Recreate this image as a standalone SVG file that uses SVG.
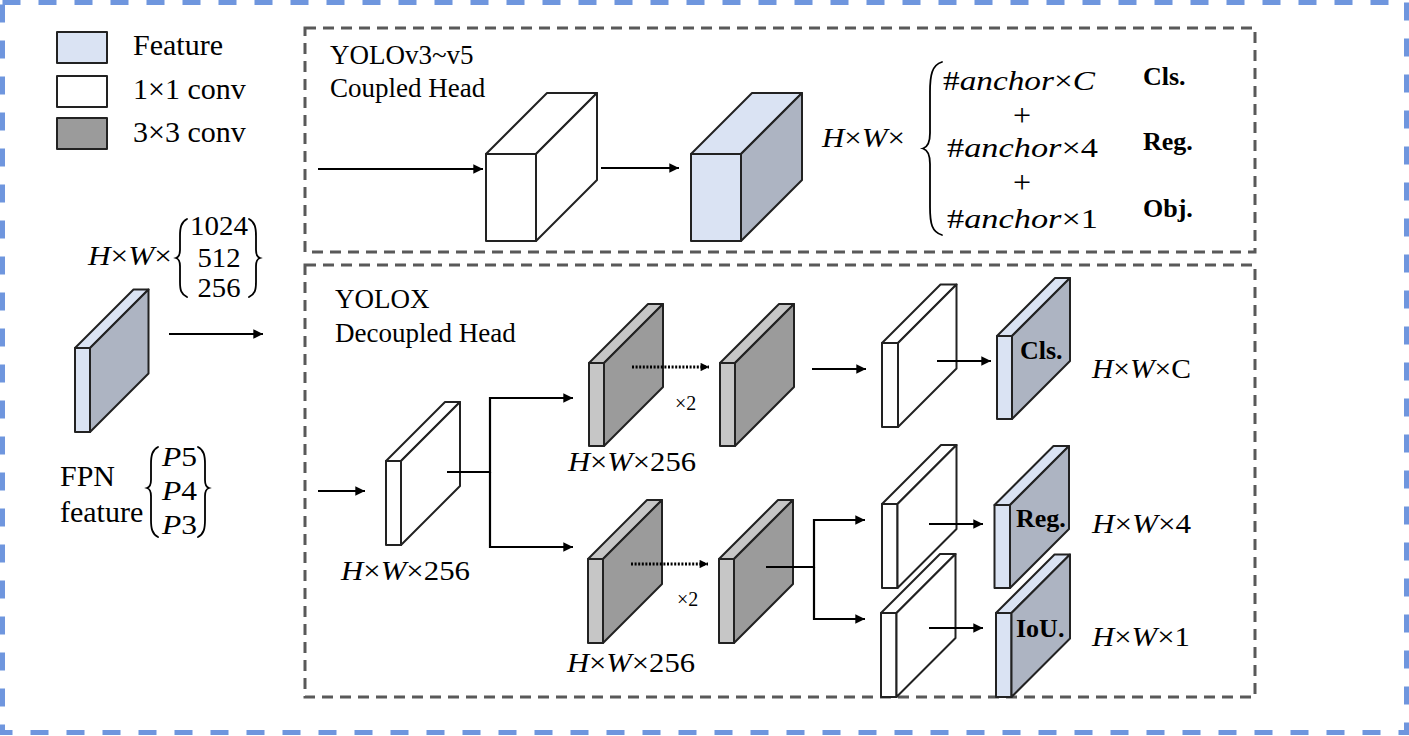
<svg xmlns="http://www.w3.org/2000/svg" width="1409" height="736" viewBox="0 0 1409 736" font-family="Liberation Serif, serif">
  <defs>
    <style>
      text { font-family: 'Liberation Serif', serif; fill: #000000; }
      .bold { font-weight: bold; }
      .i { font-style: italic; }
      .edge { stroke: #222; stroke-width: 2; stroke-linejoin: round; }
      .feat-f { fill: #dae3f3; }
      .feat-s { fill: #adb4c2; }
      .gray-f { fill: #c6c6c6; }
      .gray-s { fill: #9b9b9b; }
      .white { fill: #ffffff; }
      .frame { fill: none; stroke: #595959; stroke-width: 3; stroke-dasharray: 11 7; }
      .link { fill: none; stroke: #000; stroke-width: 2.2; }
      .dots { fill: none; stroke: #000; stroke-width: 3; stroke-dasharray: 2 1.6; }
      .brace { fill: none; stroke: #000; stroke-width: 1.8; stroke-linecap: round; }
    </style>
    <marker id="arrow" viewBox="0 0 10 10" refX="10" refY="5" markerWidth="4.6" markerHeight="4.4" markerUnits="strokeWidth" orient="auto">
      <path d="M0,0 L10,5 L0,10 z" fill="#000"/>
    </marker>
    <marker id="arrowDot" viewBox="0 0 10 10" refX="10" refY="5" markerWidth="3" markerHeight="2.8" markerUnits="strokeWidth" orient="auto">
      <path d="M0,0 L10,5 L0,10 z" fill="#000"/>
    </marker>
  </defs>

  <rect width="1409" height="736" fill="#ffffff"/>

  <!-- outer dashed frame -->
  <rect x="2.5" y="2.5" width="1404" height="730" fill="none" stroke="#6f96de" stroke-width="5" stroke-dasharray="18 18"/>

  <!-- head panels -->
  <g id="panels">
    <rect class="frame" x="305" y="28" width="950" height="224"/>
    <rect class="frame" x="305" y="265" width="950" height="432"/>
  </g>

  <!-- legend -->
  <g id="legend">
    <rect class="edge feat-f" x="57" y="32" width="50" height="31"/>
    <rect class="edge white" x="57" y="76" width="50" height="31"/>
    <rect class="edge gray-s" x="57" y="118" width="50" height="31"/>
    <text x="133" y="55" font-size="30">Feature</text>
    <text x="133" y="99" font-size="30">1×1 conv</text>
    <text x="133" y="142" font-size="30">3×3 conv</text>
  </g>

  <!-- FPN input feature -->
  <g id="fpn-feature">
    <rect class="edge feat-f" x="75" y="348" width="15" height="84"/>
    <polygon class="edge feat-f" points="75,348 133.5,289.5 148.5,289.5 90,348"/>
    <polygon class="edge feat-s" points="90,348 148.5,289.5 148.5,373.5 90,432"/>
    <text x="88" y="265" font-size="27" textLength="84" lengthAdjust="spacingAndGlyphs"><tspan class="i">H</tspan>×<tspan class="i">W</tspan>×</text>
    <path class="brace" d="M187,219 C181,222 180,228 180,236 L180,250 C180,255 179,257 176,258 C179,259 180,261 180,266 L180,282 C180,290 181,294 187,297"/>
    <path class="brace" d="M249,219 C255,222 256,228 256,236 L256,250 C256,255 257,257 260,258 C257,259 256,261 256,266 L256,282 C256,290 255,294 249,297"/>
    <text x="219" y="235" font-size="27" text-anchor="middle" textLength="58" lengthAdjust="spacingAndGlyphs">1024</text>
    <text x="219" y="267" font-size="27" text-anchor="middle" textLength="43" lengthAdjust="spacingAndGlyphs">512</text>
    <text x="219" y="297" font-size="27" text-anchor="middle" textLength="43" lengthAdjust="spacingAndGlyphs">256</text>
    <text x="60" y="486" font-size="30">FPN</text>
    <text x="60" y="522" font-size="30">feature</text>
    <path class="brace" d="M158,447 C152,450 151,456 151,464 L151,480 C151,485 150,487 147,488 C150,489 151,491 151,496 L151,520 C151,528 152,534 158,537"/>
    <path class="brace" d="M198,447 C204,450 205,456 205,464 L205,480 C205,485 206,487 209,488 C206,489 205,491 205,496 L205,520 C205,528 204,534 198,537"/>
    <text x="162" y="466" font-size="27" textLength="35" lengthAdjust="spacingAndGlyphs"><tspan class="i">P</tspan>5</text>
    <text x="162" y="500" font-size="27" textLength="35" lengthAdjust="spacingAndGlyphs"><tspan class="i">P</tspan>4</text>
    <text x="162" y="534" font-size="27" textLength="35" lengthAdjust="spacingAndGlyphs"><tspan class="i">P</tspan>3</text>
  </g>

  <!-- coupled head -->
  <g id="coupled-title">
    <text x="330" y="64" font-size="27">YOLOv3~v5</text>
    <text x="330" y="97" font-size="27">Coupled Head</text>
  </g>
  <g id="coupled-conv">
    <rect class="edge white" x="486" y="154" width="50" height="87"/>
    <polygon class="edge white" points="486,154 547,93 597,93 536,154"/>
    <polygon class="edge white" points="536,154 597,93 597,180 536,241"/>
  </g>
  <g id="coupled-output">
    <rect class="edge feat-f" x="691" y="154" width="50" height="87"/>
    <polygon class="edge feat-f" points="691,154 752,93 802,93 741,154"/>
    <polygon class="edge feat-s" points="741,154 802,93 802,180 741,241"/>
  </g>
  <g id="coupled-shape">
    <text x="822" y="147" font-size="27" textLength="83" lengthAdjust="spacingAndGlyphs"><tspan class="i">H</tspan>×<tspan class="i">W</tspan>×</text>
    <path class="brace" stroke-width="2.2" d="M942,62 C932,65 930,75 930,92 L930,133 C930,142 928,147 923,148.5 C928,150 930,155 930,164 L930,207 C930,224 932,232 942,235"/>
    <text x="943" y="90" font-size="28" textLength="152" lengthAdjust="spacingAndGlyphs">#<tspan class="i">anchor</tspan>×<tspan class="i">C</tspan></text>
    <text x="1022" y="126" font-size="32" text-anchor="middle">+</text>
    <text x="947" y="157" font-size="28" textLength="151" lengthAdjust="spacingAndGlyphs">#<tspan class="i">anchor</tspan>×4</text>
    <text x="1022" y="193" font-size="32" text-anchor="middle">+</text>
    <text x="947" y="228" font-size="28" textLength="151" lengthAdjust="spacingAndGlyphs">#<tspan class="i">anchor</tspan>×1</text>
    <text class="bold" x="1143" y="85" font-size="26">Cls.</text>
    <text class="bold" x="1143" y="150" font-size="26">Reg.</text>
    <text class="bold" x="1143" y="217" font-size="26">Obj.</text>
  </g>

  <!-- decoupled head -->
  <g id="decoupled-title">
    <text x="335" y="308" font-size="27">YOLOX</text>
    <text x="335" y="342" font-size="27">Decoupled Head</text>
  </g>
  <g id="stem-conv">
    <rect class="edge white" x="386" y="461" width="15" height="84"/>
    <polygon class="edge white" points="386,461 445,402 460,402 401,461"/>
    <polygon class="edge white" points="401,461 460,402 460,486 401,545"/>
    <text x="341" y="580" font-size="27" textLength="129" lengthAdjust="spacingAndGlyphs"><tspan class="i">H</tspan>×<tspan class="i">W</tspan>×256</text>
  </g>
  <g id="cls-conv-a">
    <rect class="edge gray-f" x="589" y="363" width="15" height="83"/>
    <polygon class="edge gray-f" points="589,363 648,304 663,304 604,363"/>
    <polygon class="edge gray-s" points="604,363 663,304 663,387 604,446"/>
    <text x="568" y="471" font-size="27" textLength="128" lengthAdjust="spacingAndGlyphs"><tspan class="i">H</tspan>×<tspan class="i">W</tspan>×256</text>
  </g>
  <g id="cls-conv-b">
    <rect class="edge gray-f" x="720" y="363" width="15" height="83"/>
    <polygon class="edge gray-f" points="720,363 779,304 794,304 735,363"/>
    <polygon class="edge gray-s" points="735,363 794,304 794,387 735,446"/>
  </g>
  <g id="reg-conv-a">
    <rect class="edge gray-f" x="588" y="559" width="15" height="84"/>
    <polygon class="edge gray-f" points="588,559 647,500 662,500 603,559"/>
    <polygon class="edge gray-s" points="603,559 662,500 662,584 603,643"/>
    <text x="567" y="672" font-size="27" textLength="128" lengthAdjust="spacingAndGlyphs"><tspan class="i">H</tspan>×<tspan class="i">W</tspan>×256</text>
  </g>
  <g id="reg-conv-b">
    <rect class="edge gray-f" x="719" y="559" width="15" height="84"/>
    <polygon class="edge gray-f" points="719,559 778,500 793,500 734,559"/>
    <polygon class="edge gray-s" points="734,559 793,500 793,584 734,643"/>
  </g>
  <g id="cls-pred">
    <rect class="edge white" x="882" y="343" width="16" height="84"/>
    <polygon class="edge white" points="882,343 940.5,284.5 956.5,284.5 898,343"/>
    <polygon class="edge white" points="898,343 956.5,284.5 956.5,368.5 898,427"/>
  </g>
  <g id="cls-out">
    <rect class="edge feat-f" x="997" y="336" width="15" height="83"/>
    <polygon class="edge feat-f" points="997,336 1055,278 1070,278 1012,336"/>
    <polygon class="edge feat-s" points="1012,336 1070,278 1070,361 1012,419"/>
    <text class="bold" x="1020" y="359" font-size="26">Cls.</text>
    <text x="1092" y="378" font-size="27" textLength="99" lengthAdjust="spacingAndGlyphs"><tspan class="i">H</tspan>×<tspan class="i">W</tspan>×C</text>
  </g>
  <g id="reg-pred">
    <rect class="edge white" x="882" y="504" width="15.5" height="84"/>
    <polygon class="edge white" points="882,504 941,445 956.5,445 897.5,504"/>
    <polygon class="edge white" points="897.5,504 956.5,445 956.5,529 897.5,588"/>
  </g>
  <g id="reg-out">
    <rect class="edge feat-f" x="994.5" y="505" width="15.5" height="83"/>
    <polygon class="edge feat-f" points="994.5,505 1053.5,446 1069,446 1010,505"/>
    <polygon class="edge feat-s" points="1010,505 1069,446 1069,529 1010,588"/>
    <text class="bold" x="1016" y="527" font-size="26">Reg.</text>
    <text x="1092" y="533" font-size="27" textLength="99" lengthAdjust="spacingAndGlyphs"><tspan class="i">H</tspan>×<tspan class="i">W</tspan>×4</text>
  </g>
  <g id="iou-pred">
    <rect class="edge white" x="881" y="613" width="15.5" height="84"/>
    <polygon class="edge white" points="881,613 940,554 955.5,554 896.5,613"/>
    <polygon class="edge white" points="896.5,613 955.5,554 955.5,638 896.5,697"/>
  </g>
  <g id="iou-out">
    <rect class="edge feat-f" x="996" y="613" width="15.5" height="84"/>
    <polygon class="edge feat-f" points="996,613 1054.5,554.5 1070,554.5 1011.5,613"/>
    <polygon class="edge feat-s" points="1011.5,613 1070,554.5 1070,638.5 1011.5,697"/>
    <text class="bold" x="1016" y="637" font-size="26">IoU.</text>
    <text x="1092" y="646" font-size="27" textLength="98" lengthAdjust="spacingAndGlyphs"><tspan class="i">H</tspan>×<tspan class="i">W</tspan>×1</text>
  </g>

  <!-- connectors -->
  <g id="connectors">
    <line class="link" x1="169" y1="334" x2="263" y2="334" marker-end="url(#arrow)"/>
    <line class="link" x1="318" y1="169" x2="483" y2="169" marker-end="url(#arrow)"/>
    <line class="link" x1="601" y1="168" x2="679" y2="168" marker-end="url(#arrow)"/>
    <line class="link" x1="318" y1="491" x2="365" y2="491" marker-end="url(#arrow)"/>
    <path class="link" d="M447,472 H490 V398 H573" marker-end="url(#arrow)"/>
    <path class="link" d="M490,472 V547 H573" marker-end="url(#arrow)"/>
    <line class="dots" x1="632" y1="367" x2="709" y2="367" marker-end="url(#arrowDot)"/>
    <line class="dots" x1="631" y1="564" x2="708" y2="564" marker-end="url(#arrowDot)"/>
    <text x="675" y="410" font-size="20">×2</text>
    <text x="677" y="606" font-size="20">×2</text>
    <line class="link" x1="812" y1="369" x2="866" y2="369" marker-end="url(#arrow)"/>
    <path class="link" d="M766,567 H814 V520 H865" marker-end="url(#arrow)"/>
    <path class="link" d="M814,567 V619 H865" marker-end="url(#arrow)"/>
    <line class="link" x1="937" y1="361" x2="991" y2="361" marker-end="url(#arrow)"/>
    <line class="link" x1="929" y1="524" x2="983" y2="524" marker-end="url(#arrow)"/>
    <line class="link" x1="929" y1="628" x2="983" y2="628" marker-end="url(#arrow)"/>
  </g>
</svg>
